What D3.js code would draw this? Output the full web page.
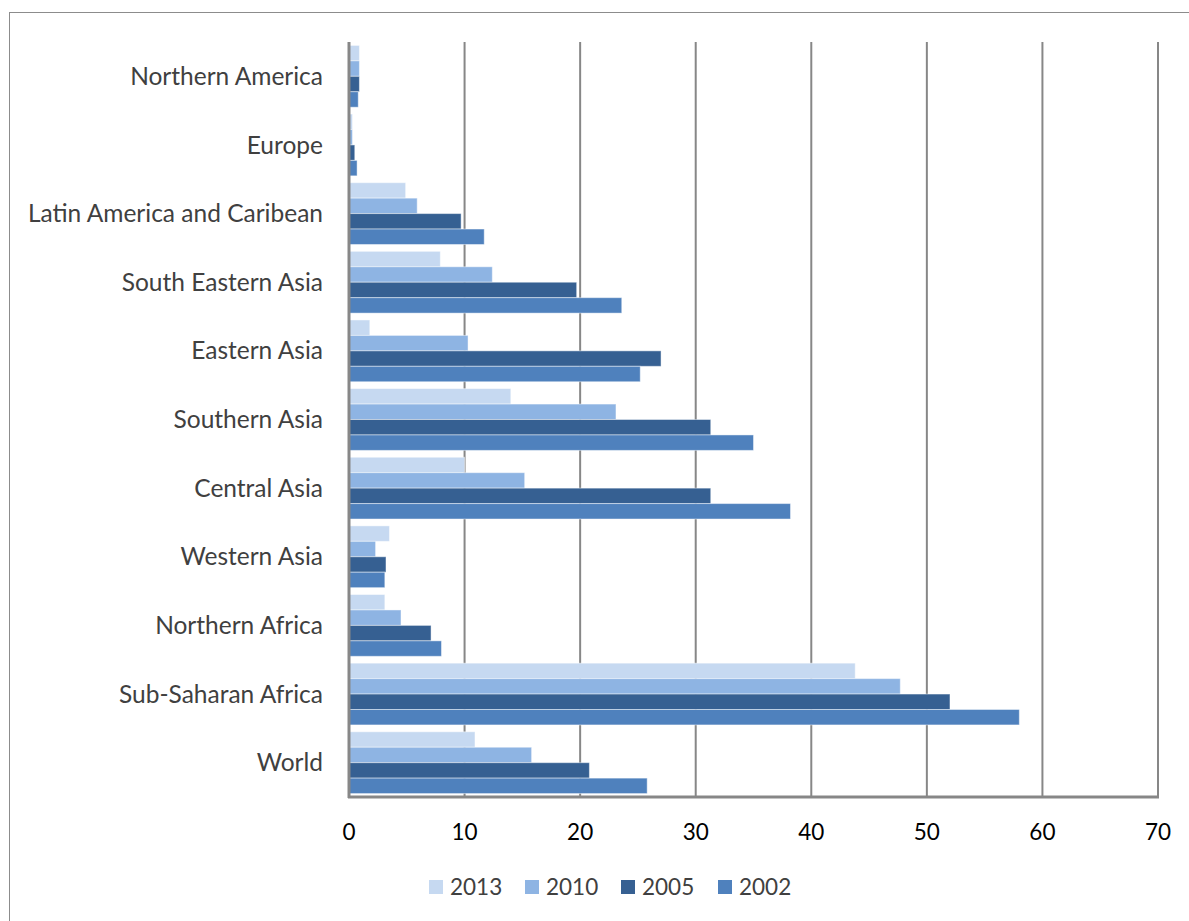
<!DOCTYPE html>
<html>
<head>
<meta charset="utf-8">
<script src="https://cdn.jsdelivr.net/npm/d3@7"></script>
<style>
  body { margin: 0; background: #fff; }
  svg { display: block; font-family: Lato, "Open Sans", sans-serif; }
</style>
</head>
<body>
<svg id="chart" width="1189" height="921"></svg>
<script>
// categories top to bottom
const regions = [
  "Northern America", "Europe", "Latin America and Caribean", "South Eastern Asia",
  "Eastern Asia", "Southern Asia", "Central Asia", "Western Asia",
  "Northern Africa", "Sub-Saharan Africa", "World"
];
const years = ["2013", "2010", "2005", "2002"];
const v2013 = [0.9, 0.3, 4.9, 7.9, 1.8, 14.0, 10.0, 3.5, 3.1, 43.8, 10.9];
const v2010 = [0.9, 0.3, 5.9, 12.4, 10.3, 23.1, 15.2, 2.3, 4.5, 47.7, 15.8];
const v2005 = [0.9, 0.5, 9.7, 19.7, 27.0, 31.3, 31.3, 3.2, 7.1, 52.0, 20.8];
const v2002 = [0.8, 0.7, 11.7, 23.6, 25.2, 35.0, 38.2, 3.1, 8.0, 58.0, 25.8];
const xTicks = [0, 10, 20, 30, 40, 50, 60, 70];
const colors = ["#c6d9f1", "#8eb4e3", "#366092", "#4f81bd"];

const series = [v2013, v2010, v2005, v2002];
const rows = regions.map((r, i) => ({ region: r, vals: years.map((y, j) => ({ year: y, v: series[j][i] })) }));

const svg = d3.select("#chart");

// outer frame (runs off the right and bottom edges)
svg.append("rect")
  .attr("x", 9.5).attr("y", 12.5)
  .attr("width", 1200).attr("height", 1000)
  .attr("fill", "none").attr("stroke", "#8c8c8c").attr("stroke-width", 1);

const plotLeft = 349, plotRight = 1158, plotTop = 42, plotBottom = 797;

const x = d3.scaleLinear().domain([0, 70]).range([plotLeft, plotRight]);
const y = d3.scaleBand().domain(regions).range([plotTop, plotBottom]).paddingInner(0.1).paddingOuter(0.05);
const ySub = d3.scaleBand().domain(years).range([0, y.bandwidth()]);

// gridlines
svg.append("g").selectAll("line")
  .data(xTicks.slice(1))
  .join("line")
  .attr("x1", d => x(d)).attr("x2", d => x(d))
  .attr("y1", plotTop).attr("y2", plotBottom)
  .attr("stroke", "#878787").attr("stroke-width", 2);

// bars
const groups = svg.append("g").selectAll("g")
  .data(rows)
  .join("g")
  .attr("transform", d => `translate(0,${y(d.region)})`);

groups.selectAll("rect")
  .data(d => d.vals)
  .join("rect")
  .attr("x", x(0))
  .attr("y", d => ySub(d.year))
  .attr("width", d => x(d.v) - x(0))
  .attr("height", ySub.bandwidth())
  .attr("fill", (d, i) => colors[i])
  .attr("stroke", "rgba(255,255,255,0.45)")
  .attr("stroke-width", 1);

// axis lines
svg.append("line")
  .attr("x1", plotLeft).attr("x2", plotLeft).attr("y1", plotTop).attr("y2", plotBottom + 1)
  .attr("stroke", "#878787").attr("stroke-width", 3);
svg.append("line")
  .attr("x1", plotLeft - 1).attr("x2", plotRight + 1).attr("y1", plotBottom).attr("y2", plotBottom)
  .attr("stroke", "#878787").attr("stroke-width", 3);

// category labels
svg.append("g").selectAll("text")
  .data(regions)
  .join("text")
  .attr("x", 323)
  .attr("y", d => y(d) + y.bandwidth() / 2)
  .attr("dy", "0.35em")
  .attr("text-anchor", "end")
  .attr("font-size", 24.5)
  .attr("fill", "#404040")
  .text(d => d);

// x tick labels
svg.append("g").selectAll("text")
  .data(xTicks)
  .join("text")
  .attr("x", d => x(d))
  .attr("y", 832)
  .attr("dy", "0.35em")
  .attr("text-anchor", "middle")
  .attr("font-size", 22.5)
  .attr("fill", "#000")
  .text(d => d);

// legend
const legendX = [429, 525, 621, 718];
const legend = svg.append("g").selectAll("g")
  .data(years)
  .join("g")
  .attr("transform", (d, i) => `translate(${legendX[i]},887)`);
legend.append("rect")
  .attr("x", 0).attr("y", -7)
  .attr("width", 14).attr("height", 14)
  .attr("fill", (d, i) => colors[i]);
legend.append("text")
  .attr("x", 21).attr("dy", "0.35em")
  .attr("font-size", 22.5)
  .attr("fill", "#404040")
  .text(d => d);
</script>
</body>
</html>
